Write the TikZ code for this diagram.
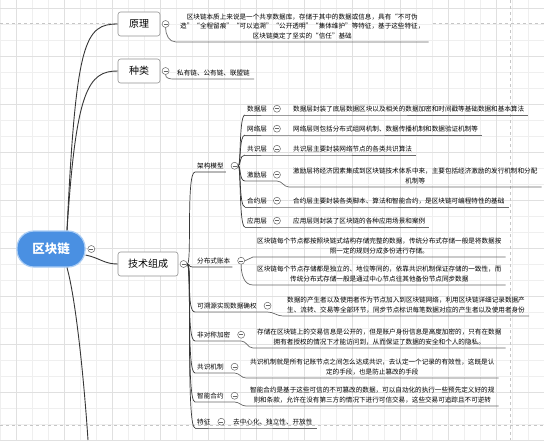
\documentclass[tikz,border=0pt]{standalone}
\usepackage{fontspec}
\setmainfont{Noto Sans CJK SC}
\usetikzlibrary{positioning}

\definecolor{rootblue}{RGB}{74,144,226}
\definecolor{rootrim}{RGB}{170,205,245}
\definecolor{gridminor}{RGB}{239,239,239}
\definecolor{gridmajor}{RGB}{224,224,224}
\definecolor{linkgray}{RGB}{55,55,55}
\definecolor{ulgray}{RGB}{105,105,105}

\begin{document}
\begin{tikzpicture}[x=1pt,y=-1pt]
\tikzset{
  rootnode/.style={rectangle,rounded corners=17pt,fill=rootblue,draw=rootrim,line width=1.2pt,minimum width=68pt,minimum height=36pt,text=white,font=\fontsize{12.5}{14}\selectfont\bfseries},
  topicbox/.style={rectangle,rounded corners=2.5pt,draw=gray!85,fill=white,line width=0.6pt,minimum height=24pt,inner xsep=6pt,font=\fontsize{10}{12}\selectfont},
  sublabel/.style={inner xsep=2pt,inner ysep=3pt,anchor=south west,font=\fontsize{6.6}{9.5}\selectfont},
  notetext/.style={inner xsep=4pt,inner ysep=3pt,anchor=south west,align=center,font=\fontsize{6.6}{9.5}\selectfont},
  fold/.style={circle,draw=gray!80!black,fill=white,line width=0.5pt,minimum size=7pt,inner sep=0pt,
    path picture={\draw[gray!80!black,line width=0.5pt] ([xshift=-2pt]path picture bounding box.center) -- ([xshift=2pt]path picture bounding box.center);}},
  link/.style={draw=linkgray,line width=0.9pt},
  branch/.style={draw=linkgray,line width=0.7pt},
  uline/.style={draw=ulgray,line width=0.7pt},
  pagebreak/.style={draw=gray!45,dashed,line width=0.5pt}
}
\useasboundingbox (0,0) rectangle (544,440);

% background grid
\fill[white] (0,0) rectangle (544,440);
\foreach \gx in {0,16,...,544} \draw[gridminor,line width=0.4pt] (\gx,0) -- (\gx,440);
\foreach \gy in {8,24,...,440} \draw[gridminor,line width=0.4pt] (0,\gy) -- (544,\gy);
\foreach \gx in {16,64,...,544} \draw[gridmajor,line width=0.4pt] (\gx,0) -- (\gx,440);
\foreach \gy in {8,56,...,440} \draw[gridmajor,line width=0.4pt] (0,\gy) -- (544,\gy);
\draw[pagebreak] (0,23) -- (118,23);
\draw[pagebreak] (433,23) -- (544,23);
\draw[pagebreak] (510,0) -- (510,440);
\draw[pagebreak] (0,425) -- (544,425);

% root and main topics
\node[rootnode] (root) at (51,249) {区块链};
\node[fold,right=2pt of root] (rootc) {};
\node[topicbox,minimum width=42pt] (yuanli) at (139,24) {原理};
\node[fold,right=1.5pt of yuanli] (yuanlic) {};
\node[topicbox,minimum width=42pt] (zhonglei) at (139,71) {种类};
\node[fold,right=1.5pt of zhonglei] (zhongleic) {};
\node[topicbox,minimum width=60pt] (jishu) at (148,264) {技术组成};
\node[fold,right=1.5pt of jishu] (jishuc) {};
\coordinate (more) at (88,440);

\draw[link] ([xshift=16pt]root.north) .. controls (76,40) and (85,24) .. (yuanli.west);
\draw[link] ([xshift=16pt]root.north) .. controls (76,90) and (88,71) .. (zhonglei.west);
\draw[link] ([yshift=-6pt]root.east) .. controls (100,258) and (104,264) .. (jishu.west);
\draw[link] ([xshift=16pt]root.south) .. controls (76,300) and (84,380) .. (more);

% 原理, 种类
\node[notetext] (yuanlitxt) at (176,42) {区块链本质上来说是一个共享数据库，存储于其中的数据或信息，具有“不可伪\\造”“全程留痕”“可以追溯”“公开透明”“集体维护”等特征，基于这些特征，\\区块链奠定了坚实的“信任”基础};
\draw[uline] (yuanlic.south) to[out=-90,in=180] (yuanlitxt.south west) -- (yuanlitxt.south east);
\node[notetext] (zhongleitxt) at (173,79) {私有链、公有链、联盟链};
\draw[uline] (zhongleic.south) to[out=-90,in=180] (zhongleitxt.south west) -- (zhongleitxt.south east);

% 技术组成
\node[sublabel] (jiagou) at (195,172) {架构模型};
\node[fold,right=5pt of jiagou] (jiagouc) {};
\node[sublabel] (fenbu) at (195,267) {分布式账本};
\node[fold,right=5pt of fenbu] (fenbuc) {};
\node[sublabel] (suyuan) at (195,312) {可溯源实现数据确权};
\node[fold,right=5pt of suyuan] (suyuanc) {};
\node[sublabel] (feidui) at (195,341) {非对称加密};
\node[fold,right=5pt of feidui] (feiduic) {};
\node[sublabel] (gongshi) at (195,373) {共识机制};
\node[fold,right=5pt of gongshi] (gongshic) {};
\node[sublabel] (zhineng) at (195,402) {智能合约};
\node[fold,right=5pt of zhineng] (zhinengc) {};
\node[sublabel] (tezheng) at (195,428) {特征};
\node[fold,right=5pt of tezheng] (tezhengc) {};

\node[notetext] (fenbutxta) at (253,257) {区块链每个节点都按照块链式结构存储完整的数据，传统分布式存储一般是将数据按\\照一定的规则分成多份进行存储。};
\node[notetext] (fenbutxtb) at (253,285) {区块链每个节点存储都是独立的、地位等同的，依靠共识机制保证存储的一致性，而\\传统分布式存储一般是通过中心节点往其他备份节点同步数据};
\node[notetext] (suyuantxt) at (283,316) {数据的产生者以及使用者作为节点加入到区块链网络，利用区块链详细记录数据产\\生、流转、交易等全部环节，同步节点标识每笔数据对应的产生者以及使用者身份};
\node[notetext] (feiduitxt) at (253,348) {存储在区块链上的交易信息是公开的，但是账户身份信息是高度加密的，只有在数据\\拥有者授权的情况下才能访问到，从而保证了数据的安全和个人的隐私。};
\node[notetext] (gongshitxt) at (246,378) {共识机制就是所有记账节点之间怎么达成共识，去认定一个记录的有效性，这既是认\\定的手段，也是防止篡改的手段};
\node[notetext] (zhinengtxt) at (246,406) {智能合约是基于这些可信的不可篡改的数据，可以自动化的执行一些预先定义好的规\\则和条款，允许在没有第三方的情况下进行可信交易，这些交易可追踪且不可逆转};
\node[notetext] (tezhengtxt) at (229,428) {去中心化、独立性、开放性};

\draw[branch] (jishuc.east) .. controls (192,265) and ([xshift=-9pt]jiagou.south west) .. (jiagou.south west) -- (jiagou.south east);
\draw[branch] (jishuc.east) .. controls (192,265) and ([xshift=-9pt]fenbu.south west) .. (fenbu.south west) -- (fenbu.south east);
\draw[uline] (fenbuc.east) to[out=0,in=180] (fenbutxta.south west) -- (fenbutxta.south east);
\draw[uline] (fenbuc.south) to[out=-90,in=180] (fenbutxtb.south west) -- (fenbutxtb.south east);
\foreach \nm in {suyuan,feidui,gongshi,zhineng,tezheng}{
  \draw[branch] (jishuc.east) .. controls (192,265) and ([xshift=-9pt]\nm.south west) .. (\nm.south west);
  \draw[uline] (\nm.south west) -- (\nm c |- \nm.south) to[out=0,in=180] (\nm txt.south west) -- (\nm txt.south east);
}

% 架构模型 layers
\node[sublabel] (shuju) at (245,115) {数据层};
\node[fold,right=4pt of shuju] (shujuc) {};
\node[notetext] (shujutxt) at (289,115) {数据层封装了底层数据区块以及相关的数据加密和时间戳等基础数据和基本算法};
\node[sublabel] (wangluo) at (245,135) {网络层};
\node[fold,right=4pt of wangluo] (wangluoc) {};
\node[notetext] (wangluotxt) at (289,135) {网络层则包括分布式组网机制、数据传播机制和数据验证机制等};
\node[sublabel] (gongshiceng) at (245,155) {共识层};
\node[fold,right=4pt of gongshiceng] (gongshicengc) {};
\node[notetext] (gongshicengtxt) at (289,155) {共识层主要封装网络节点的各类共识算法};
\node[sublabel] (jili) at (245,181) {激励层};
\node[fold,right=4pt of jili] (jilic) {};
\node[notetext] (jilitxt) at (289,187) {激励层将经济因素集成到区块链技术体系中来，主要包括经济激励的发行机制和分配\\机制等};
\node[sublabel] (heyue) at (245,207) {合约层};
\node[fold,right=4pt of heyue] (heyuec) {};
\node[notetext] (heyuetxt) at (289,207) {合约层主要封装各类脚本、算法和智能合约，是区块链可编程特性的基础};
\node[sublabel] (yingyong) at (245,227) {应用层};
\node[fold,right=4pt of yingyong] (yingyongc) {};
\node[notetext] (yingyongtxt) at (289,227) {应用层则封装了区块链的各种应用场景和案例};

\foreach \nm in {shuju,wangluo,gongshiceng,jili,heyue,yingyong}{
  \draw[branch] (jiagouc.east) .. controls (241,166) and ([xshift=-6pt]\nm.south west) .. (\nm.south west);
  \draw[uline] (\nm.south west) -- (\nm c |- \nm.south) to[out=0,in=180] (\nm txt.south west) -- (\nm txt.south east);
}
\end{tikzpicture}
\end{document}
